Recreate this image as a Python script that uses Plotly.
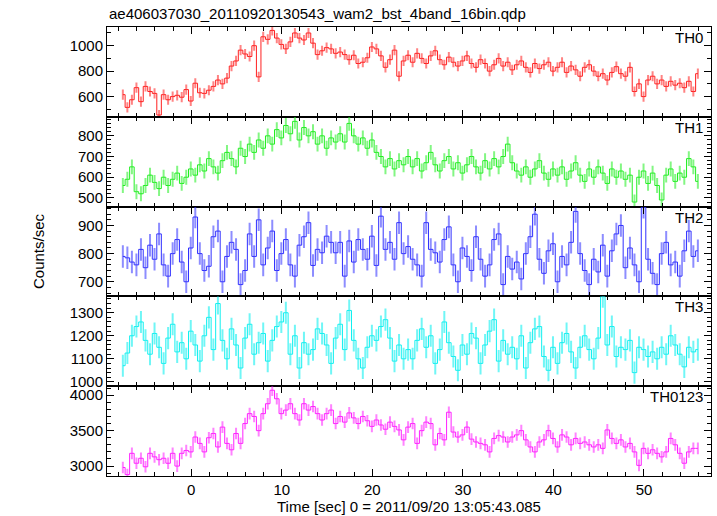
import numpy as np
import plotly.graph_objects as go

# ---------------- data (0.5 s bins, bin centres from -7.55 s) ----------------
t_first = -7.55
bin_width = 0.5

th0 = [
 615,515,575,670,560,680,640,625,455,615,575,600,610,595,655,565,
 705,630,625,650,680,730,700,745,840,880,965,935,915,1000,755,1070,
 1050,1120,1060,1010,975,1030,1100,1060,1045,1100,1020,930,960,985,975,940,
 950,930,890,925,860,870,905,990,975,920,830,890,965,760,880,925,
 870,940,900,860,920,960,890,850,910,870,840,880,920,860,830,890,
 860,800,850,900,840,870,810,850,880,830,790,860,820,850,870,800,
 830,870,790,840,810,760,830,850,800,760,780,730,790,835,780,760,
 830,640,700,600,730,760,700,730,680,720,690,705,670,720,640,780,
]
th1 = [
 560,590,650,530,520,560,610,575,545,600,560,590,620,570,600,640,
 610,660,630,690,650,620,680,720,690,650,740,700,760,720,780,740,
 800,760,830,790,850,810,870,780,840,800,820,760,800,740,790,770,
 810,770,860,800,760,790,740,780,720,700,650,690,640,680,660,700,
 650,690,630,670,720,660,630,680,700,640,670,620,660,700,650,620,
 680,640,690,650,700,760,670,630,610,650,600,640,680,620,590,640,
 610,650,590,630,670,610,580,640,600,650,620,570,640,600,630,590,
 610,480,600,630,570,620,560,490,610,640,580,620,600,690,650,580,
]
th2 = [
 790,785,770,760,815,750,830,780,870,760,720,800,850,770,700,820,
 930,800,740,755,860,880,700,790,840,815,690,740,870,790,920,760,
 820,880,740,800,850,760,720,830,860,910,758,815,803,862,840,803,
 840,720,845,770,850,815,780,862,758,933,815,840,780,910,800,825,
 780,760,720,910,815,803,770,850,895,760,700,820,790,740,860,780,
 720,760,850,870,690,790,745,770,710,800,860,940,780,730,810,835,
 700,790,760,840,950,800,740,690,780,735,830,720,810,870,900,750,
 820,760,700,965,780,730,690,800,840,760,770,720,810,880,790,810,
]
th3 = [
 1070,1125,1200,1240,1260,1180,1120,1210,1150,1080,1190,1250,1130,1170,1100,1220,
 1160,1090,1200,1280,1140,1340,1180,1100,1230,1160,1060,1190,1250,1120,1170,1210,
 1090,1180,1240,1260,1300,1120,1200,1060,1170,1120,1140,1230,1210,1160,1080,1190,
 1250,1140,1310,1180,1100,1060,1150,1200,1180,1240,1270,1190,1090,1160,1100,1140,
 1100,1180,1230,1150,1200,1080,1140,1260,1170,1110,1050,1160,1120,1210,1190,1080,
 1160,1220,1270,1090,1180,1120,1150,1100,1200,1060,1170,1230,1240,1110,1050,1150,
 1080,1170,1210,1130,1060,1150,1200,1140,1100,1190,1370,1160,1240,1110,1150,1140,
 1180,1040,1150,1140,1110,1130,1100,1150,1120,1200,1160,1120,1065,1150,1130,1140,
]
th0123 = [
 2980,2880,3180,3040,3110,2990,3180,3130,3090,3110,3040,3180,3000,3180,3220,3200,
 3410,3320,3200,3400,3460,3270,3550,3320,3230,3460,3320,3600,3740,3700,3500,3740,
 3880,4070,3950,3740,3790,3880,3740,3650,3880,3790,3840,3740,3650,3740,3790,3600,
 3700,3620,3750,3680,3600,3700,3640,3560,3650,3580,3520,3620,3560,3510,3370,3550,
 3600,3320,3500,3620,3600,3300,3460,3370,3760,3480,3410,3440,3550,3380,3340,3320,
 3300,3200,3390,3430,3410,3340,3410,3440,3500,3370,3270,3200,3340,3370,3500,3390,
 3270,3440,3410,3300,3390,3320,3340,3300,3270,3300,3250,3510,3390,3320,3370,3270,
 3320,3200,3010,3250,3180,3230,3180,3130,3200,3390,3300,3180,3040,3200,3250,3250,
]

# typical 1-sigma error per band (counts/sec)
err_vals = [40, 36, 40, 48, 82]

panel_names = ["TH0", "TH1", "TH2", "TH3", "TH0123"]
panel_series = [th0, th1, th2, th3, th0123]
panel_colors = ["#ff2020", "#20ee20", "#3030ff", "#10f0f0", "#ff20ff"]
err_colors = ["rgba(255,30,30,0.55)", "rgba(30,238,30,0.55)", "rgba(48,48,255,0.55)",
              "rgba(16,240,240,0.6)", "rgba(255,30,255,0.55)"]
y_ranges = [[441, 1147], [458, 892], [648, 967], [981, 1371], [2860, 4127]]
y_dticks = [200, 100, 100, 100, 500]
y_minor = [100, 20, 20, 20, 100]

x_range = [-9.3, 57.4]
x_ticks = [0, 10, 20, 30, 40, 50]

title_text = "ae406037030_20110920130543_wam2_bst_4band_16bin.qdp"
x_title = "Time [sec] 0 = 2011/09/20 13:05:43.085"
y_title = "Counts/sec"

# ---------------- figure ----------------
n = len(th0)
t = t_first + bin_width * np.arange(n)

FONT = "Liberation Sans, Arial, Helvetica, sans-serif"
fig = go.Figure()

npan = 5
for k in range(npan):
    idx = "" if k == 0 else str(k + 1)
    fig.add_trace(go.Scatter(
        x=t, y=panel_series[k], mode="lines",
        line=dict(color=panel_colors[k], width=1, shape="hvh"),
        error_y=dict(type="constant", value=err_vals[k], color=err_colors[k],
                     thickness=2, width=0),
        xaxis="x" + idx, yaxis="y" + idx, showlegend=False, hoverinfo="skip",
    ))

layout = dict(
    width=717, height=516,
    margin=dict(l=107, r=6, t=27, b=40, autoexpand=False),
    paper_bgcolor="white", plot_bgcolor="white",
    font=dict(family=FONT, size=15, color="black"),
    showlegend=False,
)

h = 1.0 / npan
annotations = []
for k in range(npan):
    idx = "" if k == 0 else str(k + 1)
    top = 1 - k * h
    bot = 1 - (k + 1) * h
    layout["yaxis" + idx] = dict(
        domain=[bot, top], range=y_ranges[k], anchor="x" + idx,
        showline=True, linecolor="black", linewidth=1, mirror="ticks",
        ticks="inside", ticklen=7, tickcolor="black",
        dtick=y_dticks[k], tick0=0, showgrid=False, zeroline=False,
        minor=dict(dtick=y_minor[k], tick0=0, ticks="inside", ticklen=4,
                   tickcolor="black", showgrid=False),
        tickfont=dict(size=15), automargin=False,
    )
    xa = dict(
        domain=[0, 1], range=x_range, anchor="y" + idx,
        showline=True, linecolor="black", linewidth=1, mirror="ticks",
        ticks="inside", ticklen=7, tickcolor="black",
        tickvals=x_ticks, showgrid=False, zeroline=False,
        minor=dict(dtick=2, tick0=0, ticks="inside", ticklen=4,
                   tickcolor="black", showgrid=False),
        showticklabels=(k == npan - 1), tickfont=dict(size=15), automargin=False,
    )
    if k > 0:
        xa["matches"] = "x"
    layout["xaxis" + idx] = xa
    annotations.append(dict(
        text=panel_names[k], xref="x%s domain" % idx, yref="y%s domain" % idx,
        x=0.99, y=1.0, xanchor="right", yanchor="top", showarrow=False,
        font=dict(size=15, family=FONT),
    ))

annotations.append(dict(text=title_text, xref="paper", yref="paper",
                        x=0.0, y=1.0, yshift=3, xanchor="left", yanchor="bottom",
                        showarrow=False, font=dict(size=15, family=FONT)))
annotations.append(dict(text=x_title, xref="paper", yref="paper",
                        x=0.5, y=0, yshift=-20, xanchor="center", yanchor="top",
                        showarrow=False, font=dict(size=15, family=FONT)))
annotations.append(dict(text=y_title, xref="paper", yref="paper",
                        x=0, xshift=-58, y=0.5, xanchor="right", yanchor="middle",
                        textangle=-90, showarrow=False,
                        font=dict(size=15, family=FONT)))
layout["annotations"] = annotations
fig.update_layout(**layout)

fig.write_html("out.html", config={"displayModeBar": False},
               post_script="document.body.style.margin='0';document.body.style.overflow='hidden';")
